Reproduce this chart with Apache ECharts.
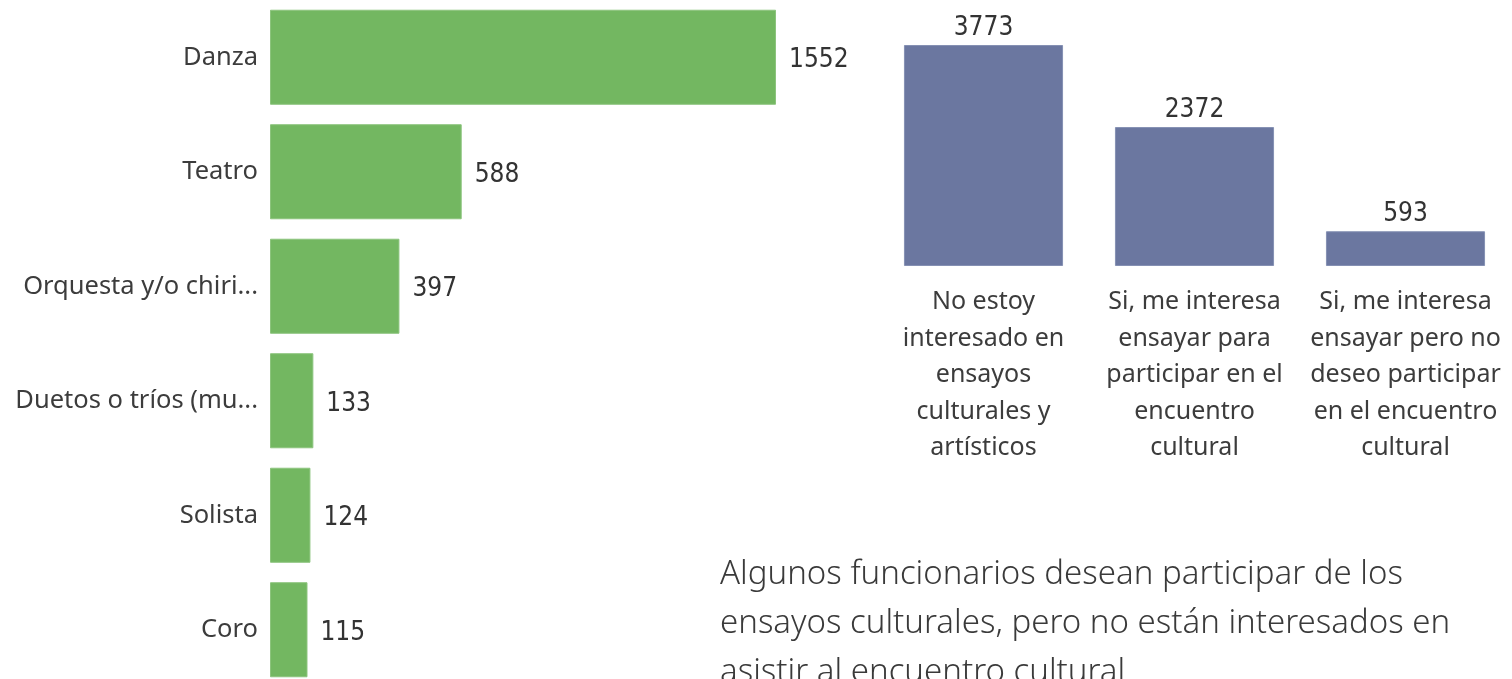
<!DOCTYPE html>
<html>
<head>
<meta charset="utf-8">
<script src="https://cdn.jsdelivr.net/npm/echarts@6/dist/echarts.min.js"></script>
<style>
html,body{margin:0;padding:0;background:#fff;}
#chart{width:1512px;height:679px;}
</style>
</head>
<body>
<div id="chart"></div>
<script>
// Left chart: categories and values
var genreCategories = ['Danza', 'Teatro', 'Orquesta y/o chiri...', 'Duetos o tríos (mu...', 'Solista', 'Coro'];
var genreValues = [1552, 588, 397, 133, 124, 115];

// Right chart: categories and values
var interestCategories = [
  'No estoy\ninteresado en\nensayos\nculturales y\nartísticos',
  'Si, me interesa\nensayar para\nparticipar en el\nencuentro\ncultural',
  'Si, me interesa\nensayar pero no\ndeseo participar\nen el encuentro\ncultural'
];
var interestValues = [3773, 2372, 593];

var noteLines = [
  'Algunos funcionarios desean participar de los',
  'ensayos culturales, pero no están interesados en',
  'asistir al encuentro cultural'
];

var chart = echarts.init(document.getElementById('chart'), null, {renderer: 'canvas'});

var labelFont = '"Noto Sans", "Open Sans", sans-serif';
var numFont = '"DejaVu Sans Condensed", "Liberation Sans Narrow", sans-serif';

chart.setOption({
  backgroundColor: '#ffffff',
  animation: false,
  grid: [
    {left: 270, top: 0, width: 506, height: 687, containLabel: false, outerBoundsMode: 'none'},
    {left: 878, top: 45, width: 633, height: 221, containLabel: false, outerBoundsMode: 'none'}
  ],
  xAxis: [
    {gridIndex: 0, type: 'value', min: 0, max: function (v) { return v.max; }, show: false},
    {gridIndex: 1, type: 'category', data: interestCategories,
     axisLine: {show: false}, axisTick: {show: false}, splitLine: {show: false},
     axisLabel: {interval: 0, margin: 18, fontFamily: labelFont, fontSize: 25, lineHeight: 36.5, color: '#3c3c3c', align: 'center'}}
  ],
  yAxis: [
    {gridIndex: 0, type: 'category', data: genreCategories, inverse: true,
     axisLine: {show: false}, axisTick: {show: false}, splitLine: {show: false},
     axisLabel: {margin: 12, fontFamily: labelFont, fontSize: 25.5, color: '#3c3c3c'}},
    {gridIndex: 1, type: 'value', min: 0, max: function (v) { return v.max; }, show: false}
  ],
  series: [
    {type: 'bar', xAxisIndex: 0, yAxisIndex: 0, data: genreValues, barCategoryGap: '17%',
     itemStyle: {color: '#73B761', borderColor: '#8cc47d', borderWidth: 1},
     label: {show: true, position: 'right', distance: 13, offset: [0, 3], fontFamily: numFont, fontSize: 26, color: '#333333'}},
    {type: 'bar', xAxisIndex: 1, yAxisIndex: 1, data: interestValues, barCategoryGap: '24.6%',
     itemStyle: {color: '#6B77A0', borderColor: '#8590b3', borderWidth: 1},
     label: {show: true, position: 'top', distance: 4, fontFamily: numFont, fontSize: 26, color: '#333333'}}
  ],
  graphic: [
    {type: 'text', left: 720, top: 550,
     style: {text: noteLines.join('\n'), font: '300 33px "Noto Sans", "Open Sans", sans-serif', lineHeight: 49, fill: '#3a3a3a'}}
  ]
});
</script>
</body>
</html>
